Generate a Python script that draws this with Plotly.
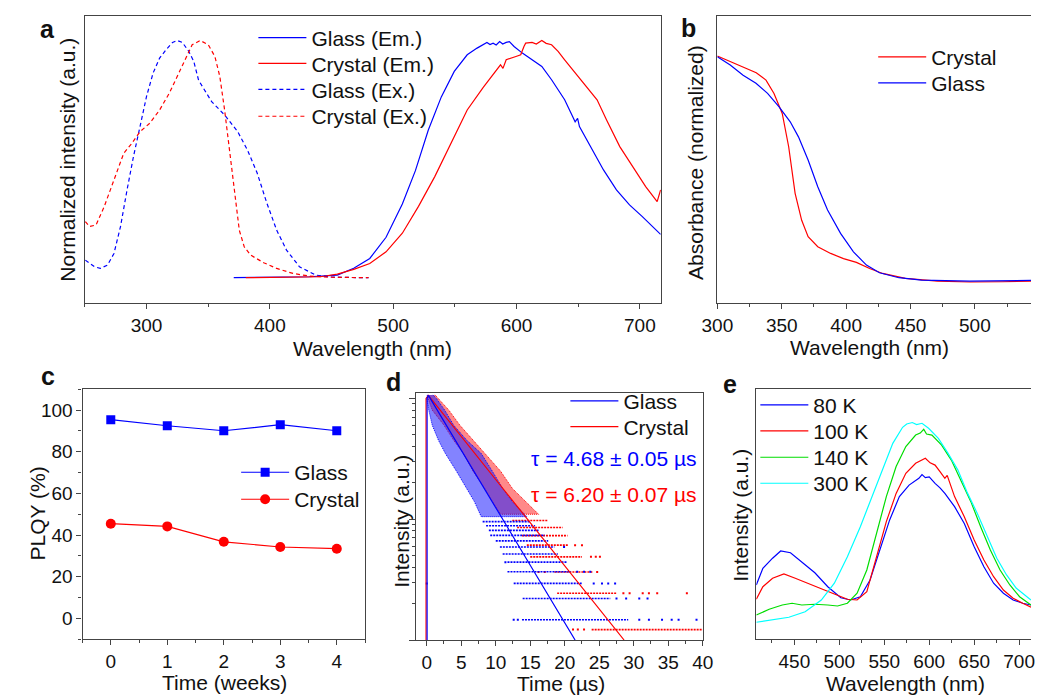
import plotly.graph_objects as go

FONT = "Liberation Sans, Arial, Helvetica, sans-serif"
BLUE = "#0000ff"
RED = "#ff0000"
GREEN = "#00dd00"
CYAN = "#00ffff"
AXC = "#444444"
W, H = 1042, 696

# ---------------- (a) excitation / emission spectra ----------------
glass_ex_wl = [250.4, 257.8, 262.5, 268.3, 273.6, 278.9, 284.2, 289.4, 294.7, 300.0, 305.3, 310.6,
               315.8, 321.1, 325.0, 329.0, 334.3, 338.3, 342.2, 352.8, 363.3, 373.9, 381.8, 389.7,
               397.6, 405.5, 413.5, 424.0, 437.2, 450.0, 465.0, 480.0]
glass_ex_int = [0.074, 0.046, 0.039, 0.053, 0.102, 0.215, 0.369, 0.509, 0.635, 0.762, 0.860, 0.923,
                0.958, 0.989, 0.997, 0.989, 0.951, 0.909, 0.830, 0.740, 0.684, 0.614, 0.537, 0.440,
                0.313, 0.200, 0.116, 0.046, 0.011, 0.003, 0.001, 0.000]

crystal_ex_wl = [250.4, 253.8, 259.1, 265.7, 273.6, 281.5, 288.1, 294.7, 302.6, 310.6, 318.5, 326.4,
                 331.7, 337.0, 343.5, 350.1, 355.4, 359.4, 363.3, 367.3, 371.2, 375.2, 379.2, 384.4,
                 395.0, 405.5, 418.7, 432.0, 450.0, 465.0, 480.0]
crystal_ex_int = [0.236, 0.215, 0.222, 0.299, 0.411, 0.523, 0.565, 0.614, 0.649, 0.705, 0.776, 0.860,
                  0.923, 0.979, 0.997, 0.979, 0.930, 0.846, 0.705, 0.537, 0.355, 0.200, 0.130, 0.095,
                  0.063, 0.039, 0.018, 0.007, 0.002, 0.001, 0.000]

glass_em_wl = [370.7, 400.0, 432.0, 454.7, 468.0, 481.0, 494.2, 507.4, 518.0, 528.4, 539.0, 549.5,
               560.0, 568.0, 576.0, 578.5, 581.0, 583.5, 586.3, 588.8, 591.6, 594.2, 598.0, 604.7,
               612.6, 620.5, 628.4, 639.0, 647.5, 649.5, 651.0, 660.0, 670.5, 681.0, 691.6, 702.0,
               716.8]
glass_em_int = [0.000, 0.001, 0.004, 0.011, 0.040, 0.081, 0.170, 0.310, 0.450, 0.620, 0.760, 0.867,
                0.937, 0.965, 0.989, 0.980, 0.986, 0.978, 0.993, 0.982, 0.989, 0.992, 0.972, 0.944,
                0.916, 0.888, 0.832, 0.748, 0.655, 0.670, 0.635, 0.551, 0.453, 0.369, 0.306, 0.257,
                0.182]

crystal_em_wl = [380.5, 410.0, 441.0, 454.7, 468.0, 481.0, 494.2, 507.4, 520.5, 533.7, 546.8, 560.0,
                 573.0, 583.7, 587.0, 589.0, 591.6, 599.5, 603.4, 606.0, 607.4, 612.6, 616.0, 620.5,
                 624.0, 628.4, 633.7, 639.0, 646.8, 654.7, 665.3, 673.0, 683.7, 694.2, 704.7, 714.0,
                 716.8]
crystal_em_int = [0.000, 0.001, 0.004, 0.015, 0.035, 0.060, 0.109, 0.187, 0.300, 0.425, 0.565, 0.705,
                  0.800, 0.874, 0.895, 0.880, 0.916, 0.930, 0.937, 0.972, 0.986, 0.989, 0.982, 0.997,
                  0.985, 0.979, 0.951, 0.916, 0.867, 0.818, 0.748, 0.663, 0.551, 0.467, 0.383, 0.320,
                  0.369]

# ---------------- (b) absorption ----------------
abs_crystal_wl = [300.0, 310.0, 320.1, 330.2, 337.8, 344.0, 350.4, 355.4, 360.4, 365.5, 370.5, 378.0,
                  388.0, 398.0, 408.0, 418.3, 428.4, 446.0, 471.0, 496.4, 521.5, 543.6]
abs_crystal = [1.000, 0.975, 0.948, 0.926, 0.893, 0.834, 0.745, 0.597, 0.390, 0.270, 0.197, 0.153,
               0.123, 0.100, 0.083, 0.056, 0.034, 0.012, 0.000, -0.004, -0.003, 0.000]

abs_glass_wl = [300.0, 310.0, 320.0, 330.0, 339.0, 347.8, 356.6, 363.0, 370.5, 378.0, 385.6, 395.7,
                405.7, 415.8, 425.9, 441.0, 458.6, 496.0, 543.6]
abs_glass = [0.997, 0.960, 0.915, 0.879, 0.834, 0.775, 0.708, 0.641, 0.538, 0.419, 0.316, 0.212,
             0.130, 0.071, 0.037, 0.015, 0.004, 0.000, 0.003]

# ---------------- (c) PLQY stability ----------------
weeks = [0, 1, 2, 3, 4]
plqy_glass = [95.4, 92.5, 90.1, 93.0, 90.1]
plqy_crystal = [45.5, 44.2, 36.8, 34.3, 33.5]

# ---------------- (d) PL decay ----------------
glass_peak_counts = 68.0
crystal_peak_counts = 82.0
tau_glass_text = "τ = 4.68 ± 0.05 µs"
tau_crystal_text = "τ = 6.20 ± 0.07 µs"

# mono-exponential fits (straight on the log axis), with the excitation rise at t = 0
fit_glass_t = [0.05, 0.05, 0.24, 21.5]
fit_glass_i = [0.003, 1.0, 1.06, 0.0100]
fit_crystal_t = [-0.1, -0.1, 0.24, 28.6]
fit_crystal_i = [0.003, 1.0, 1.06, 0.0100]

# dense early part of the decay: (intensity, earliest time, latest time)
glass_cloud_i = [1.07, 1.0, 0.8, 0.6, 0.45, 0.35, 0.25, 0.18, 0.14, 0.105]
glass_cloud_t0 = [0.1, 0.0, 0.3, 0.8, 1.7, 2.7, 4.3, 5.8, 6.9, 7.9]
glass_cloud_t1 = [0.9, 1.4, 2.6, 3.9, 5.8, 7.9, 9.5, 11.0, 12.4, 14.5]
crystal_cloud_i = [1.07, 1.0, 0.8, 0.6, 0.45, 0.35, 0.25, 0.18, 0.14, 0.11]
crystal_cloud_t0 = [0.2, 0.2, 0.8, 2.5, 3.9, 5.3, 6.7, 8.4, 9.5, 10.7]
crystal_cloud_t1 = [1.2, 1.7, 3.2, 4.8, 6.7, 8.4, 10.7, 12.4, 14.3, 16.2]

# low-count tail: photon-count levels and the time span each level occupies
glass_levels = [1.0, 1.5, 2.0, 2.5, 3.0, 3.5, 4.0, 4.5, 5.0, 5.5, 6.0, 6.5]
glass_level_t0 = [13.8, 13.9, 12.6, 11.7, 11.7, 11.0, 10.6, 10.0, 9.2, 9.0, 8.6, 8.1]
glass_level_t1 = [29.2, 26.6, 22.5, 20.9, 20.4, 19.0, 18.5, 17.6, 17.1, 16.2, 15.7, 15.0]
glass_stray_t = [12.6, 13.2, 30.8, 32.2, 34.1, 35.5, 36.5, 39.1, 27.5, 28.9, 30.8, 32.0,
                 24.2, 25.4, 26.3, 27.3, 21.8, 22.8, 23.7, 11.4, 19.9, 0.0]
glass_stray_c = [1.0, 1.0, 1.0, 1.0, 1.0, 1.0, 1.0, 1.0, 1.5, 1.5, 1.5, 1.5,
                 2.0, 2.0, 2.0, 2.0, 2.5, 2.5, 2.5, 3.0, 4.0, 2.0]

crystal_levels = [1, 2, 3, 4, 5, 6, 7, 8]
crystal_level_t0 = [23.9, 18.9, 18.5, 15.0, 14.5, 13.8, 13.1, 12.4]
crystal_level_t1 = [40.0, 27.5, 24.0, 22.5, 20.5, 20.4, 19.7, 17.6]
crystal_stray_t = [21.2, 21.9, 22.8, 28.5, 29.4, 31.3, 32.2, 33.4, 37.7, 16.2, 17.1, 24.7,
                   23.8, 24.5, 25.1, 21.5, 22.5]
crystal_stray_c = [1, 1, 1, 2, 2, 2, 2, 2, 2, 3, 3, 3, 4, 4, 4, 5, 5]

# ---------------- (e) temperature-dependent PL ----------------
pl80_wl = [407.7, 415.0, 425.8, 434.8, 445.7, 458.3, 472.8, 487.2, 501.7, 512.5, 523.4, 534.2,
           545.0, 556.0, 566.8, 577.6, 588.5, 592.0, 595.7, 600.0, 606.5, 612.0, 617.4, 628.2,
           639.0, 650.0, 660.8, 671.6, 682.5, 693.3, 704.0, 713.2]
pl80 = [21.7, 28.4, 32.4, 35.3, 34.6, 31.0, 26.6, 21.0, 16.6, 15.7, 17.0, 23.7,
        35.7, 47.7, 57.0, 61.6, 64.3, 65.8, 64.6, 64.9, 62.3, 60.5, 58.3, 53.0,
        46.3, 37.0, 29.0, 22.4, 18.4, 15.7, 14.4, 13.7]

pl100_wl = [407.7, 415.0, 425.8, 438.4, 451.0, 465.5, 480.0, 494.5, 509.0, 519.8, 530.6, 541.5,
            552.3, 563.2, 574.0, 584.9, 590.0, 595.7, 601.0, 606.5, 612.0, 617.4, 620.0, 628.2,
            639.0, 650.0, 660.8, 671.6, 682.5, 693.3, 704.0, 713.2]
pl100 = [16.0, 21.0, 24.4, 26.1, 24.4, 22.4, 20.4, 18.1, 16.0, 15.7, 19.0, 33.0,
         47.0, 58.3, 66.3, 70.3, 71.2, 72.3, 70.5, 69.6, 67.0, 64.3, 65.5, 57.0,
         49.0, 39.7, 31.7, 25.0, 19.7, 16.4, 14.4, 12.8]

pl140_wl = [407.7, 422.0, 436.6, 447.5, 458.3, 472.8, 487.2, 498.0, 509.0, 519.8, 530.6, 541.5,
            552.3, 563.2, 574.0, 584.9, 590.0, 593.9, 597.0, 603.0, 613.8, 624.6, 635.5, 646.3,
            657.2, 668.0, 678.8, 689.7, 700.5, 713.2]
pl140 = [9.7, 12.0, 13.7, 14.4, 13.7, 14.0, 13.7, 13.3, 14.4, 18.4, 27.7, 42.3,
         57.0, 69.0, 77.0, 81.6, 82.4, 83.9, 82.0, 81.6, 77.6, 71.6, 63.6, 55.0,
         45.0, 35.7, 27.7, 21.7, 17.0, 13.7]

pl300_wl = [407.7, 425.8, 443.9, 462.0, 480.0, 494.5, 509.0, 523.4, 537.9, 548.7, 559.5, 570.4,
            575.0, 581.2, 586.0, 592.0, 599.3, 610.2, 621.0, 631.9, 642.7, 653.5, 664.4, 675.2,
            686.0, 696.9, 713.2]
pl300 = [6.8, 7.7, 8.8, 11.0, 15.7, 22.4, 33.0, 45.0, 58.3, 69.0, 78.3, 84.7,
         86.0, 86.6, 85.8, 86.3, 84.3, 80.3, 74.3, 67.6, 58.3, 50.3, 41.0, 32.4,
         25.7, 20.4, 15.7]


def px_x(x):
    return x / W


def px_y(y):
    return 1 - y / H


fig = go.Figure()
legends = {}
ITEM_W = 48          # legend line-sample width
TEXT_OFFSET = ITEM_W + 10   # legend text starts this far right of the legend box


def legend_slot(text_x, row_y):
    """One legend box per entry, so every entry sits exactly where it belongs."""
    key = "legend" if not legends else "legend%d" % (len(legends) + 1)
    legends[key] = dict(x=px_x(text_x - TEXT_OFFSET), y=px_y(row_y - 20.2),
                        xanchor="left", yanchor="top",
                        bgcolor="rgba(0,0,0,0)", borderwidth=0, itemwidth=ITEM_W,
                        font=dict(family=FONT, size=21, color="#111111"),
                        itemclick=False, itemdoubleclick=False)
    return key


def line_trace(x, y, color, name, xa, ya, slot=None, dash=None):
    kw = dict(showlegend=False)
    if slot is not None:
        kw = dict(showlegend=True, legend=legend_slot(*slot))
    fig.add_trace(go.Scatter(x=x, y=y, mode="lines", name=name, xaxis=xa, yaxis=ya,
                             line=dict(color=color, width=1.2, dash=dash), **kw))


# (a)
line_trace(glass_em_wl, glass_em_int, BLUE, "Glass (Em.)", "x", "y", (301.7, 37.7))
line_trace(crystal_em_wl, crystal_em_int, RED, "Crystal (Em.)", "x", "y", (301.7, 63.5))
line_trace(glass_ex_wl, glass_ex_int, BLUE, "Glass (Ex.)", "x", "y", (301.7, 89.5), dash="4px,3px")
line_trace(crystal_ex_wl, crystal_ex_int, RED, "Crystal (Ex.)", "x", "y", (301.7, 116.3),
           dash="4px,3px")

# (b)
line_trace(abs_crystal_wl, abs_crystal, RED, "Crystal", "x2", "y2", (938, 57))
line_trace(abs_glass_wl, abs_glass, BLUE, "Glass", "x2", "y2", (938, 83))

# (c)
fig.add_trace(go.Scatter(x=weeks, y=plqy_glass, mode="lines+markers", name="Glass",
                         xaxis="x3", yaxis="y3", legend=legend_slot(284, 472.3),
                         line=dict(color=BLUE, width=1.2),
                         marker=dict(symbol="square", size=9, color=BLUE)))
fig.add_trace(go.Scatter(x=weeks, y=plqy_crystal, mode="lines+markers", name="Crystal",
                         xaxis="x3", yaxis="y3", legend=legend_slot(284, 499.3),
                         line=dict(color=RED, width=1.2),
                         marker=dict(symbol="circle", size=10, color=RED)))


# (d) decay data: dense cloud, count-level streaks and isolated counts
def cloud(t0, t1, inten, rgba, color):
    xs = list(t0) + list(t1)[::-1]
    ys = list(inten) + list(inten)[::-1]
    fig.add_trace(go.Scatter(
        x=xs, y=ys, mode="lines", fill="toself", xaxis="x4", yaxis="y4",
        showlegend=False, hoverinfo="skip", line=dict(width=1, color=color, dash="1px,1px"),
        fillcolor=rgba))


def streaks(levels, t0, t1, peak, stray_t, stray_c, color):
    xs, ys = [], []
    for c, a, b in zip(levels, t0, t1):
        xs += [a, b, None]
        ys += [c / peak, c / peak, None]
    fig.add_trace(go.Scatter(x=xs, y=ys, mode="lines", xaxis="x4", yaxis="y4",
                             showlegend=False, hoverinfo="skip",
                             line=dict(color=color, width=1.6, dash="2px,1px")))
    fig.add_trace(go.Scatter(x=stray_t, y=[c / peak for c in stray_c], mode="markers",
                             xaxis="x4", yaxis="y4", showlegend=False, hoverinfo="skip",
                             marker=dict(symbol="square", size=2, color=color, line=dict(width=0))))


cloud(crystal_cloud_t0, crystal_cloud_t1, crystal_cloud_i, "rgba(255,40,40,0.55)", RED)
cloud(glass_cloud_t0, glass_cloud_t1, glass_cloud_i, "rgba(30,30,255,0.55)", BLUE)
streaks(crystal_levels, crystal_level_t0, crystal_level_t1, crystal_peak_counts,
        crystal_stray_t, crystal_stray_c, RED)
streaks(glass_levels, glass_level_t0, glass_level_t1, glass_peak_counts,
        glass_stray_t, glass_stray_c, BLUE)
line_trace(fit_crystal_t, fit_crystal_i, RED, "Crystal", "x4", "y4", (622, 426.7))
line_trace(fit_glass_t, fit_glass_i, BLUE, "Glass", "x4", "y4", (622, 401))

# (e)
line_trace(pl80_wl, pl80, BLUE, "80 K", "x5", "y5", (817, 405))
line_trace(pl100_wl, pl100, RED, "100 K", "x5", "y5", (817, 431))
line_trace(pl140_wl, pl140, GREEN, "140 K", "x5", "y5", (817, 457.3))
line_trace(pl300_wl, pl300, CYAN, "300 K", "x5", "y5", (817, 483.3))


def xax(dom, rng, dtick, tick0, minor_dtick, anchor, mirror=True):
    return dict(domain=dom, range=rng, anchor=anchor, showline=True, linecolor=AXC, linewidth=1.3,
                mirror=mirror, ticks="outside", ticklen=5, tickwidth=1.2, tickcolor=AXC,
                tickfont=dict(family=FONT, size=19, color="#111111"), showgrid=False,
                zeroline=False, dtick=dtick, tick0=tick0,
                minor=dict(ticks="outside", ticklen=3, tickwidth=1.1, tickcolor=AXC,
                           dtick=minor_dtick, tick0=tick0, showgrid=False))


def yax_blank(dom, rng, anchor, mirror=True):
    return dict(domain=dom, range=rng, anchor=anchor, showline=True, linecolor=AXC,
                linewidth=1.3, mirror=mirror, ticks="", showticklabels=False,
                showgrid=False, zeroline=False)


layout = dict(
    width=W, height=H, margin=dict(l=0, r=0, t=0, b=0),
    paper_bgcolor="white", plot_bgcolor="white",
    font=dict(family=FONT, size=21, color="#111111"),
    xaxis=xax([px_x(70.7), px_x(662)], [250, 717], 100, 300, 50, "y"),
    yaxis=yax_blank([px_y(302.7), px_y(16)], [-0.105, 1.10], "x"),
    xaxis2=xax([px_x(720), 1.0], [300, 543.6], 50, 300, 25, "y2"),
    yaxis2=yax_blank([px_y(302.7), px_y(16)], [-0.096, 1.178], "x2", mirror=False),
    xaxis3=xax([px_x(68.3), px_x(358.3)], [-0.5, 4.5], 1, 0, 0.5, "y3"),
    yaxis3=dict(domain=[px_y(639.3), px_y(389.3)], range=[-10, 110], anchor="x3",
                showline=True, linecolor=AXC, linewidth=1.3, mirror=True, ticks="outside",
                ticklen=5, tickwidth=1.2, tickcolor=AXC, dtick=20, tick0=0,
                tickfont=dict(family=FONT, size=19, color="#111111"),
                showgrid=False, zeroline=False,
                minor=dict(ticks="outside", ticklen=3, tickwidth=1.1, tickcolor=AXC,
                           dtick=10, tick0=0, showgrid=False)),
    xaxis4=xax([px_x(410.7), px_x(705)], [-1.55, 40], 5, 0, 2.5, "y4"),
    yaxis4=dict(domain=[px_y(640), px_y(393)], type="log", range=[-2, 0.045], anchor="x4",
                showline=True, linecolor=AXC, linewidth=1.3, mirror=True, ticks="outside",
                ticklen=6, tickwidth=1.2, tickcolor=AXC, showticklabels=False,
                tickmode="array", tickvals=[0.01, 0.1, 1],
                showgrid=False, zeroline=False,
                minor=dict(ticks="outside", ticklen=3, tickwidth=1.1, tickcolor=AXC,
                           tickmode="array",
                           tickvals=[k * 0.01 for k in range(2, 10)] + [k * 0.1 for k in range(2, 10)],
                           showgrid=False)),
    xaxis5=xax([px_x(760), 1.0], [407.7, 713.2], 50, 450, 25, "y5"),
    yaxis5=yax_blank([px_y(639.3), px_y(389)], [0, 100], "x5", mirror=False),
)
layout.update(legends)
fig.update_layout(**layout)

ann = []


def text(xp, yp, s, size=21, color="#111111", angle=0, bold=False, xanchor="center"):
    ann.append(dict(x=px_x(xp), y=px_y(yp), xref="paper", yref="paper", text=s,
                    showarrow=False, textangle=angle, xanchor=xanchor, yanchor="middle",
                    font=dict(family=FONT, size=size, color=color,
                              weight="bold" if bold else "normal")))


# axis titles
text(366, 348, "Wavelength (nm)")
text(53, 160, "Normalized intensity (a.u.)", angle=-90)
text(876, 347, "Wavelength (nm)")
text(698, 162, "Absorbance (normalized)", angle=-90)
text(214, 682, "Time (weeks)")
text(22, 513, "PLQY (%)", angle=-90)
text(560, 683, "Time (µs)")
text(395, 521, "Intensity (a.u.)", angle=-90)
text(913, 683, "Wavelength (nm)")
text(743, 515, "Intensity (a.u.)", angle=-90)

# lifetimes
text(701, 459, tau_glass_text, color=BLUE, xanchor="right")
text(701, 495, tau_crystal_text, color=RED, xanchor="right")

# panel letters
text(32, 29, "a", size=25, bold=True)
text(690, 28, "b", size=25, bold=True)
text(33, 376, "c", size=25, bold=True)
text(388, 382, "d", size=25, bold=True)
text(733, 384, "e", size=25, bold=True)

fig.update_layout(annotations=ann)
fig.write_html("out.html")
